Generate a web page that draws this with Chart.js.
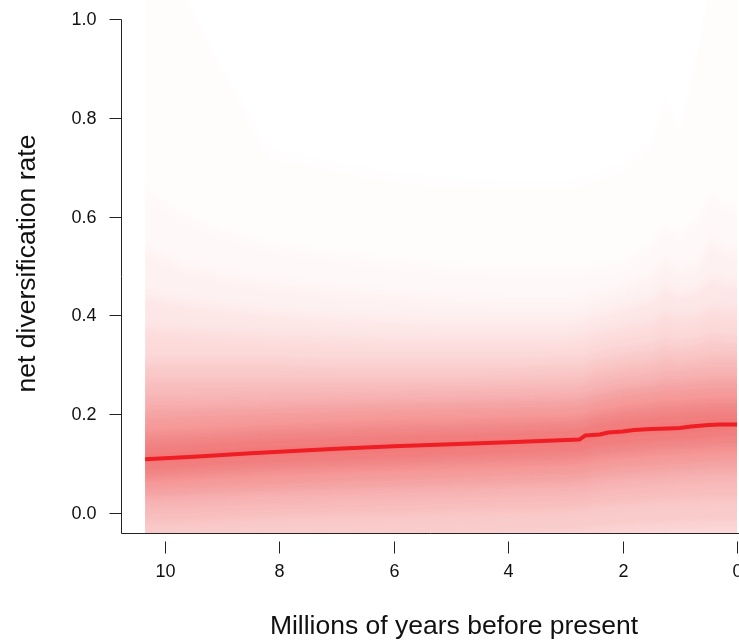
<!DOCTYPE html>
<html><head><meta charset="utf-8">
<script src="https://cdn.jsdelivr.net/npm/chart.js@4/dist/chart.umd.min.js"></script>
<style>html,body{margin:0;padding:0;background:#fff}#wrap{width:739px;height:641px}</style>
</head><body>
<svg width="0" height="0" style="position:absolute">
  <filter id="vblur" filterUnits="userSpaceOnUse" x="-50" y="-200" width="900" height="1100">
    <feGaussianBlur stdDeviation="0 6"/>
  </filter>
</svg>
<div id="wrap"><canvas id="c" width="739" height="641"></canvas></div>
<script>
// ---- data ----
const medianTimes = [10.35, 9.5, 8.5, 8.0, 7.0, 6.0, 5.0, 4.0, 3.2, 2.75, 2.65, 2.4, 2.25, 2.0, 1.8, 1.5, 1.2, 1.0, 0.8, 0.5, 0.3, 0.0];
const medianRate  = [0.109, 0.114, 0.121, 0.124, 0.130, 0.135, 0.139, 0.143, 0.147, 0.149, 0.157, 0.159, 0.163, 0.165, 0.168, 0.170, 0.171, 0.172, 0.175, 0.178, 0.179, 0.179];

const bandTimes = [10.35, 9.7, 9.0, 8.2, 7.0, 6.0, 5.0, 4.0, 3.0, 2.7, 2.5, 2.0, 1.5, 1.25, 1.0, 0.7, 0.45, 0.2, 0.0];
// upper edges of the nested credible bands, outermost first
const upperBands = [
  [1.20, 1.06, 0.90, 0.73, 0.70, 0.68, 0.67, 0.665, 0.665, 0.67, 0.68, 0.70, 0.75, 0.84, 0.78, 0.93, 1.08, 1.15, 1.20],
  [0.65, 0.60, 0.565, 0.54, 0.52, 0.505, 0.495, 0.49, 0.49, 0.49, 0.495, 0.50, 0.54, 0.58, 0.555, 0.59, 0.645, 0.62, 0.62],
  [0.53, 0.50, 0.48, 0.465, 0.45, 0.44, 0.43, 0.425, 0.425, 0.43, 0.44, 0.455, 0.48, 0.51, 0.49, 0.50, 0.55, 0.53, 0.53],
  [0.44, 0.425, 0.415, 0.405, 0.395, 0.39, 0.385, 0.385, 0.385, 0.39, 0.40, 0.415, 0.43, 0.455, 0.44, 0.45, 0.475, 0.465, 0.465],
  [0.37, 0.365, 0.36, 0.355, 0.35, 0.345, 0.345, 0.345, 0.345, 0.35, 0.36, 0.372, 0.382, 0.40, 0.39, 0.395, 0.41, 0.405, 0.405],
  [0.31, 0.31, 0.31, 0.31, 0.305, 0.305, 0.305, 0.305, 0.31, 0.31, 0.32, 0.332, 0.338, 0.35, 0.345, 0.35, 0.36, 0.355, 0.355],
  [0.27, 0.27, 0.27, 0.27, 0.27, 0.27, 0.27, 0.272, 0.275, 0.278, 0.288, 0.298, 0.305, 0.315, 0.31, 0.315, 0.32, 0.32, 0.32],
  [0.23, 0.23, 0.232, 0.234, 0.236, 0.238, 0.24, 0.242, 0.245, 0.247, 0.256, 0.266, 0.273, 0.28, 0.28, 0.284, 0.287, 0.287, 0.287],
  [0.195, 0.197, 0.2, 0.204, 0.208, 0.21, 0.213, 0.215, 0.218, 0.22, 0.228, 0.24, 0.246, 0.251, 0.251, 0.254, 0.256, 0.256, 0.256],
  [0.165, 0.168, 0.172, 0.177, 0.182, 0.186, 0.188, 0.192, 0.194, 0.197, 0.206, 0.216, 0.221, 0.226, 0.226, 0.229, 0.231, 0.231, 0.231],
  [0.142, 0.146, 0.151, 0.156, 0.161, 0.166, 0.167, 0.171, 0.176, 0.177, 0.186, 0.196, 0.201, 0.206, 0.206, 0.209, 0.211, 0.211, 0.211],
  [0.125, 0.13, 0.135, 0.14, 0.145, 0.148, 0.152, 0.156, 0.16, 0.162, 0.17, 0.178, 0.182, 0.185, 0.187, 0.19, 0.193, 0.193, 0.193]
];
// lower edges of the same bands, outermost first
const lowerBands = [
  [-0.3, -0.3, -0.3, -0.3, -0.3, -0.3, -0.3, -0.3, -0.3, -0.3, -0.3, -0.3, -0.3, -0.3, -0.3, -0.3, -0.3, -0.3, -0.3],
  [-0.25, -0.25, -0.25, -0.25, -0.25, -0.25, -0.25, -0.25, -0.25, -0.25, -0.25, -0.25, -0.25, -0.25, -0.25, -0.25, -0.25, -0.25, -0.25],
  [-0.2, -0.2, -0.2, -0.2, -0.2, -0.2, -0.2, -0.2, -0.2, -0.2, -0.2, -0.2, -0.2, -0.2, -0.2, -0.2, -0.2, -0.2, -0.2],
  [-0.16, -0.16, -0.16, -0.16, -0.16, -0.16, -0.16, -0.16, -0.16, -0.16, -0.16, -0.15, -0.14, -0.13, -0.13, -0.13, -0.13, -0.13, -0.13],
  [-0.11, -0.108, -0.105, -0.102, -0.098, -0.095, -0.092, -0.09, -0.087, -0.085, -0.08, -0.075, -0.07, -0.067, -0.065, -0.063, -0.06, -0.06, -0.06],
  [-0.07, -0.067, -0.064, -0.06, -0.056, -0.053, -0.05, -0.047, -0.044, -0.042, -0.038, -0.033, -0.03, -0.028, -0.027, -0.026, -0.025, -0.025, -0.025],
  [-0.02, -0.017, -0.013, -0.009, -0.005, -0.002, 0.002, 0.005, 0.008, 0.01, 0.015, 0.02, 0.024, 0.026, 0.027, 0.028, 0.03, 0.03, 0.03],
  [0.018, 0.021, 0.025, 0.029, 0.033, 0.037, 0.04, 0.044, 0.047, 0.049, 0.054, 0.06, 0.064, 0.066, 0.068, 0.07, 0.072, 0.072, 0.072],
  [0.044, 0.047, 0.051, 0.055, 0.06, 0.064, 0.068, 0.072, 0.075, 0.077, 0.083, 0.089, 0.093, 0.096, 0.097, 0.099, 0.101, 0.102, 0.102],
  [0.064, 0.068, 0.073, 0.078, 0.083, 0.087, 0.091, 0.095, 0.099, 0.101, 0.107, 0.113, 0.117, 0.12, 0.121, 0.123, 0.125, 0.126, 0.126],
  [0.08, 0.085, 0.09, 0.095, 0.1, 0.105, 0.109, 0.113, 0.117, 0.119, 0.126, 0.132, 0.137, 0.139, 0.14, 0.142, 0.145, 0.147, 0.147],
  [0.093, 0.098, 0.104, 0.108, 0.114, 0.118, 0.123, 0.128, 0.132, 0.134, 0.141, 0.148, 0.153, 0.155, 0.156, 0.158, 0.161, 0.163, 0.163]
];
const xTicks = [10, 8, 6, 4, 2, 0];
const yTicks = [0.0, 0.2, 0.4, 0.6, 0.8, 1.0];
const xTitle = 'Millions of years before present';
const yTitle = 'net diversification rate';

// ---- styling ----
const bandAlpha = [0.010, 0.015, 0.026, 0.042, 0.055, 0.070, 0.078, 0.086, 0.095, 0.090, 0.082, 0.070];
const FONT = '"Liberation Sans", Arial, sans-serif';

const toPts = (ts, vs) => ts.map((t, i) => ({x: t, y: vs[i]}));

const datasets = [{
  data: toPts(medianTimes, medianRate),
  borderColor: 'rgb(238,30,36)', borderWidth: 4, pointRadius: 0, fill: false, tension: 0, order: -1
}];
upperBands.forEach((up, k) => {
  const lowIdx = datasets.length;
  datasets.push({data: toPts(bandTimes, lowerBands[k]), borderWidth: 0, pointRadius: 0, fill: false, tension: 0});
  datasets.push({data: toPts(bandTimes, up), borderWidth: 0, pointRadius: 0, tension: 0,
    fill: {target: lowIdx}, backgroundColor: `rgba(225,5,5,${bandAlpha[k]})`});
});

// soft vertical gradient for the density bands (vertical-only blur), none for the median line
const softenPlugin = {
  id: 'soften',
  beforeDatasetsDraw(chart) { chart.ctx.filter = 'url(#vblur)'; },
  beforeDatasetDraw(chart, args) { if (args.index === 0) chart.ctx.filter = 'none'; },
  afterDatasetsDraw(chart) { chart.ctx.filter = 'none'; }
};

const axesPlugin = {
  id: 'axesPlugin',
  afterDraw(chart) {
    const {ctx, chartArea: ca} = chart;
    const xs = chart.scales.x, ys = chart.scales.y;
    ctx.save();
    ctx.filter = 'none';
    ctx.strokeStyle = '#222'; ctx.lineWidth = 1;
    const lx = Math.round(ca.left) + 0.5, by = Math.round(ca.bottom) + 0.5;
    ctx.beginPath();
    ctx.moveTo(lx, Math.round(ys.getPixelForValue(1.0)) + 0.5);
    ctx.lineTo(lx, by);
    ctx.lineTo(ca.right + 2, by);
    ctx.stroke();
    ctx.fillStyle = '#111';
    ctx.font = '18px ' + FONT;
    ctx.textAlign = 'right'; ctx.textBaseline = 'middle';
    yTicks.forEach(v => {
      const py = Math.round(ys.getPixelForValue(v)) + 0.5;
      ctx.beginPath(); ctx.moveTo(lx - 12, py); ctx.lineTo(lx, py); ctx.stroke();
      ctx.fillText(v.toFixed(1), lx - 25, py + 1);
    });
    ctx.textAlign = 'center';
    xTicks.forEach(v => {
      const px = Math.round(xs.getPixelForValue(v)) + 0.5;
      ctx.beginPath(); ctx.moveTo(px, by + 8); ctx.lineTo(px, by + 20); ctx.stroke();
      ctx.fillText(String(v), px, by + 39);
    });
    ctx.font = '26.5px ' + FONT;
    ctx.fillText(xTitle, 454, 627);
    ctx.save();
    ctx.translate(28, (ca.top + ca.bottom) / 2 - 3);
    ctx.rotate(-Math.PI / 2);
    ctx.fillText(yTitle, 0, 0);
    ctx.restore();
    ctx.restore();
  }
};

new Chart(document.getElementById('c'), {
  type: 'line',
  data: {datasets},
  options: {
    responsive: false, animation: false, devicePixelRatio: 1,
    layout: {padding: {left: 121, right: 0, top: 0, bottom: 108}},
    plugins: {legend: {display: false}, tooltip: {enabled: false}, filler: {propagate: false}},
    elements: {line: {borderJoinStyle: 'round', borderCapStyle: 'butt'}},
    scales: {
      x: {type: 'linear', reverse: true, min: -0.035, max: 10.77, display: false},
      y: {type: 'linear', min: -0.0405, max: 1.0385, display: false}
    }
  },
  plugins: [softenPlugin, axesPlugin]
});
</script></body></html>
